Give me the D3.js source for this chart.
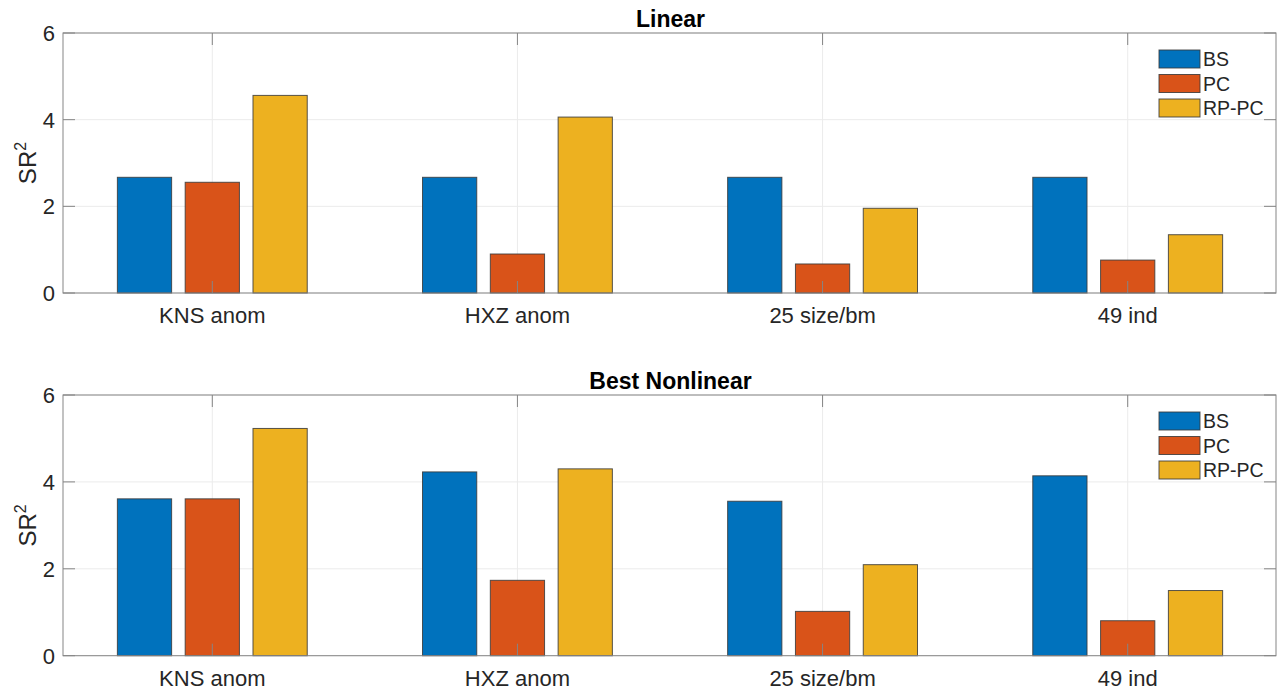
<!DOCTYPE html>
<html>
<head>
<meta charset="utf-8">
<script src="https://cdn.jsdelivr.net/npm/d3@7"></script>
<style>
  html, body { margin: 0; padding: 0; background: #fff; }
  svg { display: block; font-family: "Liberation Sans", Arial, Helvetica, sans-serif; }
</style>
</head>
<body>
<svg id="chart" width="1278" height="692"></svg>
<script>
// Squared Sharpe ratios by test-asset universe and method
const categories = ["KNS anom", "HXZ anom", "25 size/bm", "49 ind"];
const seriesNames = ["BS", "PC", "RP-PC"];
const seriesColors = ["#0072BD", "#D95319", "#EDB120"];

const linearBS   = [2.67, 2.67, 2.67, 2.67];
const linearPC   = [2.555, 0.90, 0.67, 0.76];
const linearRPPC = [4.56, 4.06, 1.955, 1.345];

const nonlinBS   = [3.61, 4.23, 3.555, 4.14];
const nonlinPC   = [3.61, 1.735, 1.02, 0.805];
const nonlinRPPC = [5.23, 4.30, 2.095, 1.50];

const yTicks = [0, 2, 4, 6];

const panels = [
  { title: "Linear",        series: [linearBS, linearPC, linearRPPC], top: 33,  bottom: 293 },
  { title: "Best Nonlinear", series: [nonlinBS, nonlinPC, nonlinRPPC], top: 395, bottom: 655.7 }
];

const svg = d3.select("#chart");
const left = 63, right = 1276;
const axisColor = "#858585";
const textColor = "#262626";
const gridColor = "#ebebeb";
const tickLen = 12;

// Grouped-bar geometry in category units
const nGroups = seriesNames.length;
const groupWidth = Math.min(0.8, nGroups / (nGroups + 1.5));
const slot = groupWidth / nGroups;
const barWidth = slot * 0.8;

const x = d3.scaleLinear().domain([0.5107, 4.486]).range([left, right]);

panels.forEach(p => {
  const g = svg.append("g");
  const y = d3.scaleLinear().domain([0, 6]).range([p.bottom, p.top]);

  // grid
  g.append("g").selectAll("line.h").data(yTicks).join("line")
    .attr("x1", left).attr("x2", right)
    .attr("y1", d => y(d)).attr("y2", d => y(d))
    .attr("stroke", gridColor).attr("stroke-width", 1);
  g.append("g").selectAll("line.v").data(categories).join("line")
    .attr("x1", (d, i) => x(i + 1)).attr("x2", (d, i) => x(i + 1))
    .attr("y1", p.top).attr("y2", p.bottom)
    .attr("stroke", gridColor).attr("stroke-width", 1);

  // bars
  p.series.forEach((vals, s) => {
    const off = (s - (nGroups - 1) / 2) * slot;
    g.append("g").selectAll("rect").data(vals).join("rect")
      .attr("x", (d, i) => x(i + 1 + off - barWidth / 2))
      .attr("width", x(barWidth) - x(0))
      .attr("y", d => y(d))
      .attr("height", d => y(0) - y(d))
      .attr("fill", seriesColors[s])
      .attr("stroke", "#3a3a3a")
      .attr("stroke-opacity", 0.85)
      .attr("stroke-width", 1);
  });

  // box
  g.append("rect")
    .attr("x", left).attr("y", p.top)
    .attr("width", right - left).attr("height", p.bottom - p.top)
    .attr("fill", "none").attr("stroke", axisColor).attr("stroke-width", 1);

  // inward ticks on all four sides
  const ticks = g.append("g").attr("stroke", axisColor).attr("stroke-width", 1);
  yTicks.forEach(t => {
    ticks.append("line").attr("x1", left).attr("x2", left + tickLen).attr("y1", y(t)).attr("y2", y(t));
    ticks.append("line").attr("x1", right).attr("x2", right - tickLen).attr("y1", y(t)).attr("y2", y(t));
  });
  categories.forEach((c, i) => {
    ticks.append("line").attr("x1", x(i + 1)).attr("x2", x(i + 1)).attr("y1", p.bottom).attr("y2", p.bottom - tickLen);
    ticks.append("line").attr("x1", x(i + 1)).attr("x2", x(i + 1)).attr("y1", p.top).attr("y2", p.top + tickLen);
  });

  // y tick labels
  g.append("g").selectAll("text").data(yTicks).join("text")
    .attr("x", left - 8).attr("y", d => y(d))
    .attr("dy", "0.36em")
    .attr("text-anchor", "end")
    .attr("font-size", 22)
    .attr("fill", textColor)
    .text(d => d);

  // category labels
  g.append("g").selectAll("text").data(categories).join("text")
    .attr("x", (d, i) => x(i + 1)).attr("y", p.bottom + 30)
    .attr("text-anchor", "middle")
    .attr("font-size", 22)
    .attr("fill", textColor)
    .text(d => d);

  // y axis label
  const yl = g.append("text")
    .attr("transform", `translate(36,${(p.top + p.bottom) / 2}) rotate(-90)`)
    .attr("text-anchor", "middle")
    .attr("font-size", 24)
    .attr("fill", textColor);
  yl.append("tspan").text("SR");
  yl.append("tspan").attr("dy", -10).attr("font-size", 16).text("2");

  // title
  g.append("text")
    .attr("x", (left + right) / 2 + 1).attr("y", p.top - 6.5)
    .attr("text-anchor", "middle")
    .attr("font-size", 23)
    .attr("font-weight", "bold")
    .attr("fill", "#000")
    .text(p.title);

  // legend
  const lg = g.append("g").attr("transform", `translate(1159,${p.top + 17})`);
  seriesNames.forEach((n, s) => {
    const row = lg.append("g").attr("transform", `translate(0,${s * 24.5})`);
    row.append("rect").attr("width", 41).attr("height", 18)
      .attr("fill", seriesColors[s]).attr("stroke", "#3a3a3a").attr("stroke-opacity", 0.85).attr("stroke-width", 1);
    row.append("text").attr("x", 44).attr("y", 9).attr("dy", "0.36em")
      .attr("font-size", 19.5).attr("fill", textColor).text(n);
  });
});
</script>
</body>
</html>
